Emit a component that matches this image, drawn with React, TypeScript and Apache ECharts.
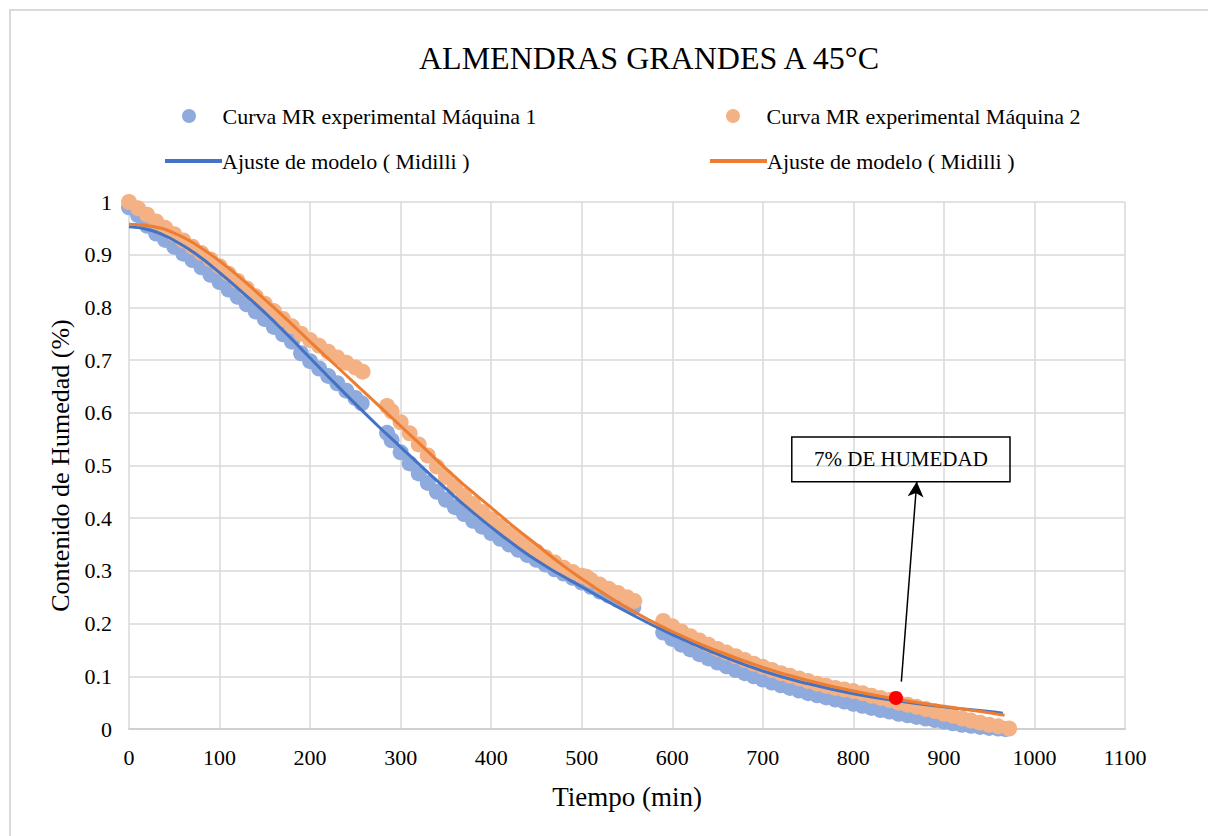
import React, { useEffect, useRef } from "react";
import * as echarts from "echarts";

const FONT = "'Liberation Serif', 'Times New Roman', serif";

const TITLE = "ALMENDRAS GRANDES A 45°C";
const S1 = "Curva MR experimental Máquina 1";
const S2 = "Curva MR experimental Máquina 2";
const FIT = "Ajuste de modelo ( Midilli )";
const X_NAME = "Tiempo (min)";
const Y_NAME = "Contenido de Humedad (%)";
const NOTE = "7% DE HUMEDAD";

const X_MIN = 0;
const X_MAX = 1100;
const X_STEP = 100;
const Y_MIN = 0;
const Y_MAX = 1;
const Y_STEP = 0.1;

// Máquina 1 (experimental)
const m1Time = [
  0, 10, 20, 30, 40, 50, 60, 70, 80, 90, 100, 110, 120, 130, 140, 150, 160, 170, 180, 190, 200, 210, 220, 230, 240, 250, 257,
  285, 290, 300, 310, 320, 330, 340, 350, 360, 370, 380, 390, 400, 410, 420, 430, 440, 450, 460, 470, 480, 490, 500, 510, 520, 530, 540, 550, 557,
  590, 600, 610, 620, 630, 640, 650, 660, 670, 680, 690, 700, 710, 720, 730, 740, 750, 760, 770, 780, 790, 800, 810, 820, 830, 840, 850, 860, 870, 880, 890, 900, 910, 920, 930, 940, 950, 960, 968,
];
const m1MR = [
  0.99, 0.975, 0.955, 0.94, 0.928, 0.915, 0.902, 0.89, 0.876, 0.862, 0.848, 0.834, 0.82, 0.806, 0.792, 0.778, 0.763, 0.749, 0.735, 0.713, 0.698, 0.684, 0.67, 0.656, 0.642, 0.628, 0.618,
  0.562, 0.548, 0.525, 0.504, 0.485, 0.467, 0.45, 0.435, 0.421, 0.408, 0.395, 0.384, 0.372, 0.361, 0.35, 0.34, 0.33, 0.321, 0.312, 0.303, 0.295, 0.287, 0.278, 0.27, 0.261, 0.253, 0.245, 0.237, 0.231,
  0.183, 0.171, 0.16, 0.151, 0.142, 0.134, 0.126, 0.119, 0.112, 0.106, 0.1, 0.094, 0.088, 0.083, 0.078, 0.073, 0.068, 0.064, 0.06, 0.056, 0.052, 0.048, 0.044, 0.04, 0.036, 0.033, 0.029, 0.026, 0.023, 0.02, 0.017, 0.014, 0.011, 0.008, 0.006, 0.004, 0.002, 0.001, 0.0,
];

// Máquina 2 (experimental)
const m2Time = [
  0, 10, 20, 30, 40, 50, 60, 70, 80, 90, 100, 110, 120, 130, 140, 150, 160, 170, 180, 190, 200, 210, 220, 230, 240, 250, 258,
  285, 290, 300, 310, 320, 330, 340, 350, 360, 370, 380, 390, 400, 410, 420, 430, 440, 450, 460, 470, 480, 490, 500, 505, 510, 520, 530, 540, 550, 558,
  590, 600, 610, 620, 630, 640, 650, 660, 670, 680, 690, 700, 710, 720, 730, 740, 750, 760, 770, 780, 790, 800, 810, 820, 830, 840, 850, 860, 870, 880, 890, 900, 910, 920, 930, 940, 950, 960, 972,
];
const m2MR = [
  1.0, 0.988, 0.976, 0.963, 0.951, 0.939, 0.927, 0.915, 0.903, 0.891, 0.878, 0.864, 0.85, 0.836, 0.821, 0.807, 0.793, 0.778, 0.764, 0.75, 0.738, 0.727, 0.716, 0.705, 0.695, 0.686, 0.678,
  0.613, 0.603, 0.582, 0.561, 0.54, 0.519, 0.498, 0.478, 0.46, 0.443, 0.427, 0.412, 0.398, 0.385, 0.372, 0.36, 0.348, 0.337, 0.326, 0.316, 0.306, 0.298, 0.291, 0.289, 0.283, 0.274, 0.266, 0.258, 0.25, 0.243,
  0.205, 0.195, 0.185, 0.176, 0.168, 0.16, 0.152, 0.145, 0.138, 0.131, 0.124, 0.118, 0.112, 0.106, 0.101, 0.096, 0.091, 0.086, 0.082, 0.078, 0.075, 0.072, 0.068, 0.063, 0.059, 0.055, 0.05, 0.046, 0.042, 0.038, 0.034, 0.029, 0.025, 0.02, 0.016, 0.012, 0.008, 0.005, 0.001,
];

// Ajuste Midilli, Máquina 1
const fit1Time = [0, 25, 50, 75, 100, 125, 150, 175, 200, 225, 250, 275, 300, 325, 350, 375, 400, 425, 450, 475, 500, 550, 600, 650, 700, 750, 800, 850, 900, 950, 965];
const fit1MR = [0.953, 0.946, 0.927, 0.9, 0.866, 0.829, 0.79, 0.748, 0.704, 0.66, 0.617, 0.575, 0.535, 0.495, 0.456, 0.418, 0.383, 0.35, 0.32, 0.294, 0.27, 0.222, 0.179, 0.142, 0.11, 0.086, 0.067, 0.053, 0.042, 0.033, 0.03];

// Ajuste Midilli, Máquina 2
const fit2Time = [0, 25, 50, 75, 100, 125, 150, 175, 200, 225, 250, 275, 300, 325, 350, 375, 400, 425, 450, 475, 500, 550, 600, 650, 700, 750, 800, 850, 900, 950, 967];
const fit2MR = [0.958, 0.954, 0.941, 0.918, 0.888, 0.853, 0.815, 0.776, 0.735, 0.695, 0.655, 0.615, 0.575, 0.535, 0.494, 0.456, 0.42, 0.384, 0.35, 0.316, 0.285, 0.23, 0.185, 0.148, 0.117, 0.092, 0.072, 0.056, 0.043, 0.031, 0.026];

// Punto 7 % de humedad y anotación
const markTime = [847];
const markMR = [0.059];
const arrowFrom = [853, 0.09];
const arrowTo = [870, 0.469];
const boxTopLeft = [732, 0.554];
const boxBottomRight = [973, 0.469];

const pairs = (t: number[], v: number[]) => t.map((x, i) => [x, v[i]]);

export default function App() {
  const ref = useRef<HTMLDivElement>(null);

  useEffect(() => {
    const chart = echarts.init(ref.current!, null, { renderer: "svg" });
    const legendText = { fontFamily: FONT, fontSize: 22, color: "#000" };
    const lineLegendText = { fontFamily: FONT, fontSize: 22, color: "#000", padding: [0, 0, 0, -5] };
    chart.setOption({
      animation: false,
      backgroundColor: "transparent",
      title: {
        text: TITLE,
        left: 414,
        top: 37,
        textStyle: { fontFamily: FONT, fontSize: 32, fontWeight: "normal", color: "#000" },
      },
      legend: [
        { data: [S1], left: 177, top: 100, itemWidth: 57, itemHeight: 14, selectedMode: false, textStyle: legendText },
        { data: [S2], left: 721, top: 100, itemWidth: 57, itemHeight: 14, selectedMode: false, textStyle: legendText },
        {
          data: [{ name: FIT, icon: "rect" }],
          left: 160,
          top: 145,
          itemWidth: 57,
          itemHeight: 4,
          selectedMode: false,
          textStyle: lineLegendText,
        },
        {
          data: [{ name: FIT, icon: "rect", itemStyle: { color: "#ed7d31" }, lineStyle: { color: "#ed7d31" } }],
          left: 705,
          top: 145,
          itemWidth: 57,
          itemHeight: 4,
          selectedMode: false,
          textStyle: lineLegendText,
        },
      ],
      grid: { left: 129, right: 83, top: 202, bottom: 107 },
      xAxis: {
        type: "value",
        min: X_MIN,
        max: X_MAX,
        interval: X_STEP,
        axisLine: { show: true, lineStyle: { color: "#d0d0d0", width: 2 } },
        axisTick: { show: false },
        splitLine: { show: true, lineStyle: { color: "#d9d9d9", width: 1.5 } },
        axisLabel: { margin: 17, fontFamily: FONT, fontSize: 22, color: "#000", formatter: (v: number) => String(v) },
        name: X_NAME,
        nameLocation: "middle",
        nameGap: 54,
        nameTextStyle: { fontFamily: FONT, fontSize: 27, color: "#000" },
      },
      yAxis: {
        type: "value",
        min: Y_MIN,
        max: Y_MAX,
        interval: Y_STEP,
        axisLine: { show: false },
        axisTick: { show: false },
        splitLine: { show: true, lineStyle: { color: "#d9d9d9", width: 1.5 } },
        axisLabel: { margin: 17, fontFamily: FONT, fontSize: 22, color: "#000" },
        name: Y_NAME,
        nameLocation: "middle",
        nameGap: 56,
        nameTextStyle: { fontFamily: FONT, fontSize: 26, color: "#000" },
      },
      series: [
        {
          name: S1,
          type: "scatter",
          data: pairs(m1Time, m1MR),
          symbol: "circle",
          symbolSize: 16,
          itemStyle: { color: "#8faadc", opacity: 1, borderWidth: 0 },
          silent: true,
        },
        {
          name: S2,
          type: "scatter",
          data: pairs(m2Time, m2MR),
          symbol: "circle",
          symbolSize: 16,
          itemStyle: { color: "#f4b183", opacity: 1, borderWidth: 0 },
          silent: true,
        },
        {
          name: FIT,
          type: "line",
          data: pairs(fit1Time, fit1MR),
          smooth: true,
          symbol: "none",
          itemStyle: { color: "#4472c4" },
          lineStyle: { color: "#4472c4", width: 3 },
          silent: true,
        },
        {
          name: FIT,
          type: "line",
          data: pairs(fit2Time, fit2MR),
          smooth: true,
          symbol: "none",
          itemStyle: { color: "#ed7d31" },
          lineStyle: { color: "#ed7d31", width: 3 },
          silent: true,
        },
        {
          name: "7%",
          type: "scatter",
          data: pairs(markTime, markMR),
          symbol: "circle",
          symbolSize: 14,
          itemStyle: { color: "#ff0000", opacity: 1 },
          silent: true,
          z: 5,
          markLine: {
            silent: true,
            symbol: ["none", "arrow"],
            symbolSize: [12, 15],
            label: { show: false },
            lineStyle: { color: "#000", width: 1.5, type: "solid" },
            data: [[{ coord: arrowFrom }, { coord: arrowTo }]],
          },
          markArea: {
            silent: true,
            itemStyle: { color: "rgba(0,0,0,0)", borderColor: "#000", borderWidth: 1.5 },
            label: {
              show: true,
              position: "inside",
              fontFamily: FONT,
              fontSize: 21,
              color: "#000",
              formatter: NOTE,
            },
            data: [[{ coord: boxTopLeft }, { coord: boxBottomRight }]],
          },
        },
      ],
    });
    return () => chart.dispose();
  }, []);

  return (
    <div style={{ position: "fixed", left: 0, top: 0, width: 1208, height: 836, overflow: "hidden", background: "#fff" }}>
      <div
        style={{
          position: "absolute",
          left: 9,
          top: 9,
          width: 1400,
          height: 1000,
          border: "2px solid #d9d9d9",
          boxSizing: "border-box",
        }}
      />
      <div ref={ref} style={{ position: "absolute", left: 0, top: 0, width: 1208, height: 836 }} />
    </div>
  );
}
